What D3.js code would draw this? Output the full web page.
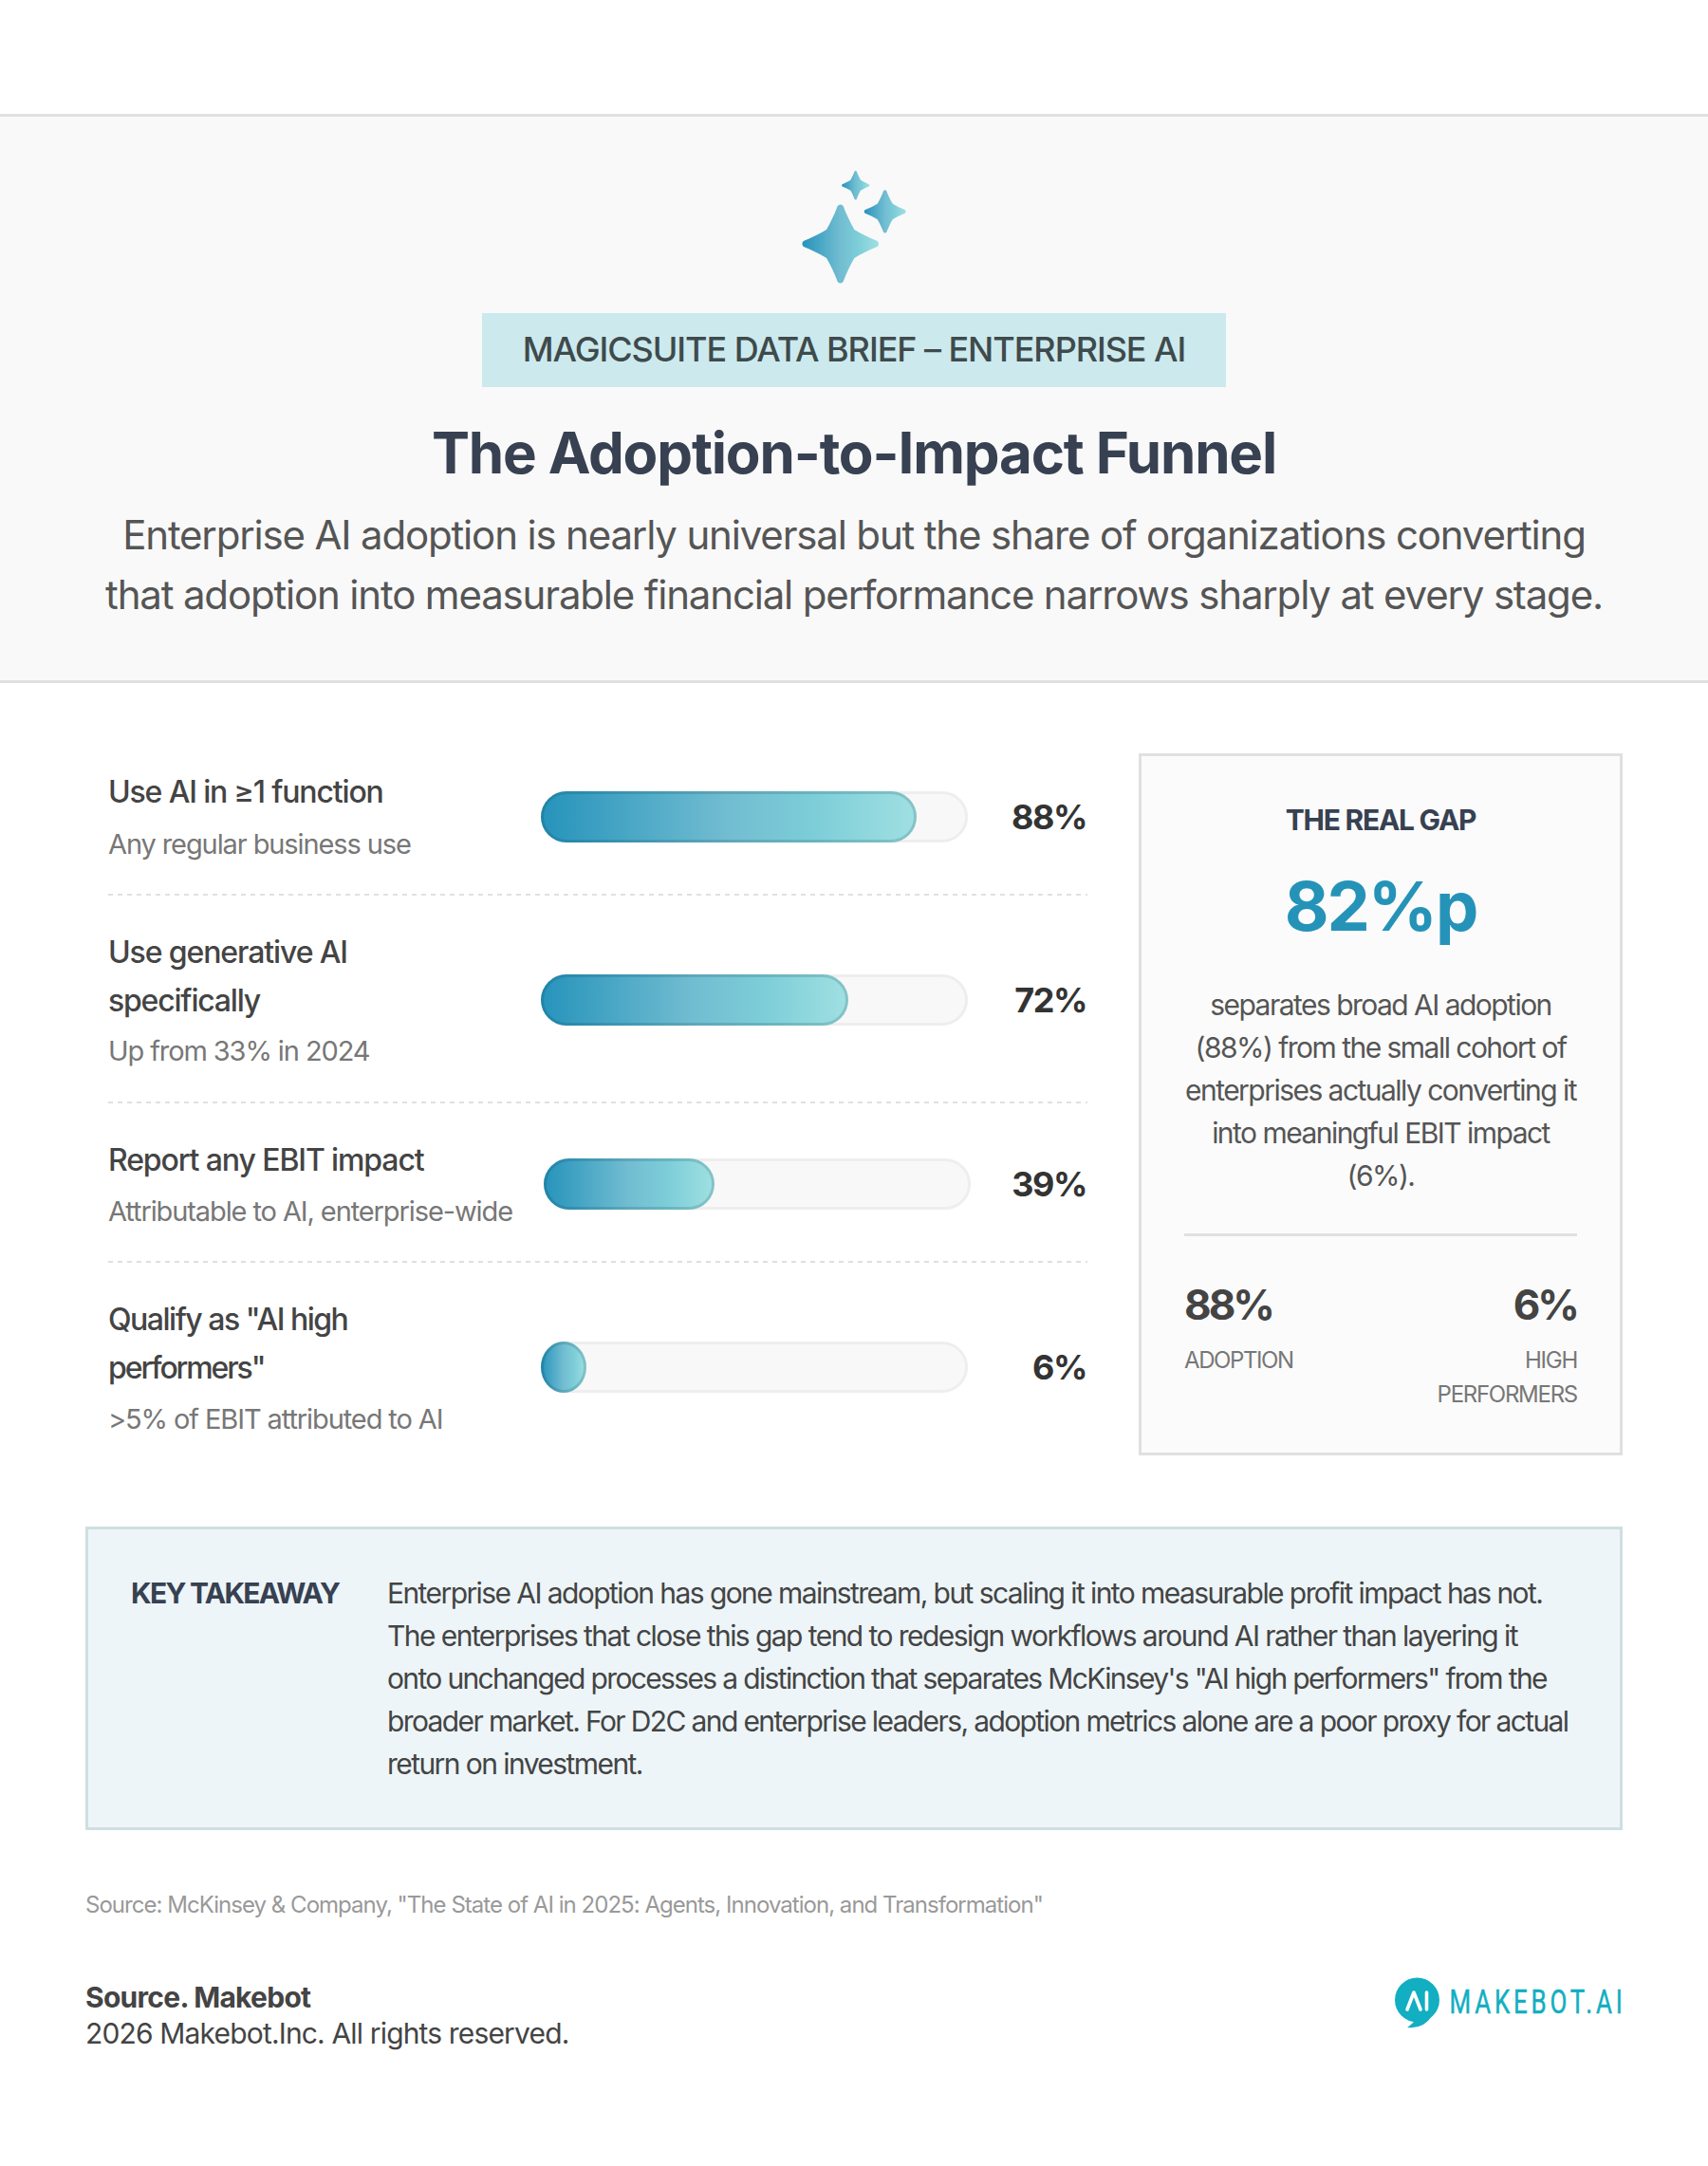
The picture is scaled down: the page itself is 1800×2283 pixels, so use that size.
<!DOCTYPE html>
<html><head><meta charset="utf-8">
<script src="https://cdn.jsdelivr.net/npm/d3@7"></script>
<style>html,body{margin:0;padding:0;background:#fff}svg{display:block}text{font-family:Inter,sans-serif}</style>
</head><body><div id="chart"></div>
<script>
const stageLabels=[["Use AI in ≥1 function"],["Use generative AI","specifically"],["Report any EBIT impact"],["Qualify as \"AI high","performers\""]];
const stageNotes=["Any regular business use","Up from 33% in 2024","Attributable to AI, enterprise-wide",">5% of EBIT attributed to AI"];
const stageValues=[88,72,39,6];
const barShares=[88,72,40,10.67];
const gapParagraph=["separates broad AI adoption","(88%) from the small cohort of","enterprises actually converting it","into meaningful EBIT impact","(6%)."];
const takeawayLines=["Enterprise AI adoption has gone mainstream, but scaling it into measurable profit impact has not.","The enterprises that close this gap tend to redesign workflows around AI rather than layering it","onto unchanged processes a distinction that separates McKinsey's \"AI high performers\" from the","broader market. For D2C and enterprise leaders, adoption metrics alone are a poor proxy for actual","return on investment."];
const subtitleLines=["Enterprise AI adoption is nearly universal but the share of organizations converting","that adoption into measurable financial performance narrows sharply at every stage."];

const W=1800,H=2283;
const svg=d3.select("#chart").append("svg").attr("width",W).attr("height",H).attr("viewBox",[0,0,W,H]);
const defs=svg.append("defs");
const grad=defs.append("linearGradient").attr("id","fillGrad");
[[0,"#2693bb"],[.5,"#72bdd1"],[.72,"#7ccdd8"],[1,"#a0e0e2"]].forEach(([o,c])=>grad.append("stop").attr("offset",o).attr("stop-color",c));
const T=(x,y,s,size,fill,weight=400,anchor="start",ls=0)=>svg.append("text").attr("x",x).attr("y",y).attr("font-size",size).attr("fill",fill).attr("font-weight",weight).attr("text-anchor",anchor).attr("letter-spacing",ls).text(s);
const R=(x,y,w,h,fill,stroke,sw=3)=>svg.append("rect").attr("x",x+sw/2).attr("y",y+sw/2).attr("width",w-sw).attr("height",h-sw).attr("fill",fill).attr("stroke",stroke).attr("stroke-width",sw);

svg.append("rect").attr("width",W).attr("height",H).attr("fill","#fff");
svg.append("rect").attr("y",120).attr("width",W).attr("height",600).attr("fill","#f9f9f9");
svg.append("rect").attr("y",120).attr("width",W).attr("height",3).attr("fill","#e0e0e0");
svg.append("rect").attr("y",717).attr("width",W).attr("height",3).attr("fill","#e0e0e0");
const star=(cx,cy,rx,ry)=>{
  const pts=[[0,-1],[1,0],[0,1],[-1,0]];
  const p=d3.path();
  const c=.35;
  p.moveTo(cx-rx*.07,cy-ry*.93);
  pts.forEach((a,i)=>{
    const b=pts[(i+1)%4];
    const ax=cx+a[0]*rx,ay=cy+a[1]*ry;
    const nx=(a[0]+b[0]),ny=(a[1]+b[1]);
    const mix=(u,v)=>[cx+a[0]*rx*u+b[0]*rx*v,cy+a[1]*ry*u+b[1]*ry*v];
    p.quadraticCurveTo(ax,ay,...mix(.93,.07));
    p.bezierCurveTo(...mix(.72,.15),...mix(.52,.25),cx+nx*rx*c,cy+ny*ry*c);
    p.bezierCurveTo(...mix(.25,.52),...mix(.15,.72),...mix(.07,.93));
  });
  p.closePath();
  return p.toString();
};
[[885.7,257,41.8,43],[932.7,223,22.9,23.5],[901.7,195.3,15.2,15.8]].forEach(s=>svg.append("path").attr("d",star(...s)).attr("fill","url(#fillGrad)"));
svg.append("rect").attr("x",508).attr("y",330).attr("width",784).attr("height",78).attr("fill","#cceaee");
T(900,381,"MAGICSUITE DATA BRIEF – ENTERPRISE AI",36,"#3f4a4c",500,"middle",-1.06);
T(900,499,"The Adoption-to-Impact Funnel",60,"#374151",700,"middle",-1.15);
subtitleLines.forEach((s,i)=>T(900,579+i*63,s,42,"#555",400,"middle",-1.17));

const rowBar=[861,1054,1248,1441];
const trackX=[570,570,573,570], trackW=450, barH=54;
const labelY=[[846],[1015,1066],[1234],[1402,1453]];
const labelTrack=[[-1.15],[-1.11,-1.2],[-1.11],[-1.5,-2.1]];
const noteY=[900,1118,1287,1506];
const ruleY=[943,1162,1330];
stageValues.forEach((v,i)=>{
  labelY[i].forEach((y,j)=>T(114,y,stageLabels[i][j],32,"#444",500,"start",labelTrack[i][j]));
  T(114,noteY[i],stageNotes[i],29,"#777",400,"start",-1.1);
  const x=d3.scaleLinear().domain([0,100]).range([0,trackW]);
  const y0=rowBar[i]-barH/2;
  R(trackX[i],y0,trackW,barH,"#f8f8f8","#eeeeee").attr("rx",25.5).attr("ry",25.5);
  const w=x(barShares[i]);
  svg.append("rect").attr("x",trackX[i]).attr("y",y0).attr("width",w).attr("height",barH).attr("rx",Math.min(w/2,27)).attr("ry",27).attr("fill","url(#fillGrad)");
  R(trackX[i],y0,w,barH,"none","rgba(0,60,70,.17)").attr("rx",Math.min(w/2,27)-1.5).attr("ry",25.5);
  T(1145,rowBar[i]+13,v+"%",36,"#333",700,"end",-1.5);
});
ruleY.forEach(y=>svg.append("line").attr("x1",114).attr("x2",1146).attr("y1",y).attr("y2",y).attr("stroke","#e0e0e0").attr("stroke-width",2).attr("stroke-dasharray","5 5"));

R(1200,794,510,740,"#fbfbfb","#e0e0e0");
T(1455,875,"THE REAL GAP",30,"#374151",700,"middle",-1.25);
T(1455,981,"82%p",72,"#2593b8",700,"middle",-2);
gapParagraph.forEach((s,i)=>T(1455,1070+i*45,s,30,"#555",400,"middle",-1.53));
svg.append("rect").attr("x",1248).attr("y",1300).attr("width",414).attr("height",3).attr("fill","#e0e0e0");
T(1248,1391,stageValues[0]+"%",44,"#444",700,"start",-3);
T(1662,1391,stageValues[3]+"%",44,"#444",700,"end",-3);
T(1248,1442,"ADOPTION",24,"#777",400,"start",-1.4);
T(1662,1442,"HIGH",24,"#777",400,"end",-1.27);
T(1662,1478,"PERFORMERS",24,"#777",400,"end",-1.27);

R(90,1609,1620,320,"#edf5f8","#cfdfe0");
T(138,1690,"KEY TAKEAWAY",30,"#374151",700,"start",-1.7);
const takeawayTrack=[-1.58,-1.56,-1.65,-1.62,-1.57];
takeawayLines.forEach((s,i)=>T(408,1690+i*45,s,30,"#444",400,"start",takeawayTrack[i]));

T(90,2016,"Source: McKinsey & Company, \"The State of AI in 2025: Agents, Innovation, and Transformation\"",24,"#999",400,"start",-.97);
T(90,2116,"Source. Makebot",30,"#444",700,"start",-.72);
T(90,2154,"2026 Makebot.Inc. All rights reserved.",30,"#444",400,"start",-.84);

svg.append("circle").attr("cx",1493.5).attr("cy",2108).attr("r",23.5).attr("fill","#12aec2");
svg.append("path").attr("d","M1486 2125 Q1494 2131 1490 2131 Q1485 2136 1483 2137 Q1500 2139 1509 2125 Z").attr("fill","#12aec2");
svg.append("path").attr("d","M1483 2118 L1490 2100 L1497 2118 M1503.500 2100 L1503.500 2118").attr("fill","none").attr("stroke","#fff").attr("stroke-width",3.6).attr("stroke-linecap","round").attr("stroke-linejoin","round");
svg.append("text").attr("transform","translate(1527.5,2121.5) scale(.72,1)").attr("font-size",36).attr("fill","#12aec2").attr("stroke","#12aec2").attr("stroke-width",.5).attr("font-weight",400).attr("letter-spacing",5.3).style("font-family","Roboto").text("MAKEBOT.AI");
</script></body></html>
